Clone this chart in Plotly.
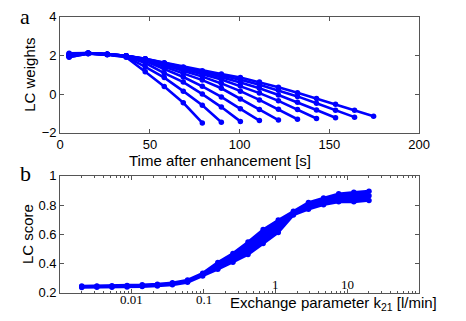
import plotly.graph_objects as go
import math

# ---------------- Panel a data ----------------
t_sec = [5, 15.6, 26.2, 36.8, 47.4, 58, 68.6, 79.2, 89.8, 100.4, 111,
         121.6, 132.2, 142.8, 153.4, 164, 174.6]

w_line0 = [1.92, 2.08, 2.03, 1.90, 1.15, 0.39, -0.45, -1.49]
w_line1 = [1.95, 2.10, 2.04, 1.93, 1.40, 0.85, 0.15, -0.58, -1.45]
w_line2 = [2.05, 2.11, 2.05, 1.95, 1.60, 1.08, 0.62, 0.00, -0.67, -1.41]
w_line3 = [1.98, 2.09, 2.05, 1.96, 1.70, 1.30, 0.88, 0.40, -0.15, -0.76, -1.37]
w_line4 = [2.08, 2.12, 2.06, 1.97, 1.75, 1.42, 1.08, 0.72, 0.30, -0.26, -0.80, -1.34]
w_line5 = [1.90, 2.10, 2.05, 1.97, 1.78, 1.50, 1.20, 0.90, 0.55, 0.15, -0.30, -0.78, -1.30]
w_line6 = [2.02, 2.11, 2.06, 1.98, 1.80, 1.55, 1.28, 1.02, 0.75, 0.42, 0.05, -0.35, -0.80, -1.26]
w_line7 = [1.96, 2.09, 2.04, 1.98, 1.81, 1.58, 1.33, 1.10, 0.87, 0.60, 0.30, -0.05, -0.42, -0.82, -1.22]
w_line8 = [2.10, 2.12, 2.06, 1.98, 1.82, 1.60, 1.37, 1.15, 0.95, 0.74, 0.48, 0.20, -0.12, -0.47, -0.84, -1.19]
w_line9 = [2.00, 2.10, 2.05, 1.98, 1.82, 1.62, 1.40, 1.20, 1.03, 0.85, 0.62, 0.35, 0.07, -0.23, -0.53, -0.84, -1.15]

x_ticks_a = [0, 50, 100, 150, 200]
y_ticks_a = [-2, 0, 2, 4]

# ---------------- Panel b data ----------------
k21 = [0.002, 0.00325, 0.00527, 0.00856, 0.0139, 0.0226, 0.0366, 0.0595,
       0.0966, 0.157, 0.255, 0.413, 0.671, 1.09, 1.77, 2.87, 4.66, 7.57,
       12.3, 20.0]
score_low = [0.237, 0.238, 0.239, 0.241, 0.243, 0.248, 0.255, 0.272, 0.315,
             0.362, 0.410, 0.462, 0.537, 0.612, 0.732, 0.772, 0.802, 0.822,
             0.822, 0.832]
score_mid = [0.242, 0.243, 0.244, 0.246, 0.249, 0.254, 0.262, 0.280, 0.325,
             0.385, 0.440, 0.505, 0.585, 0.655, 0.745, 0.795, 0.825, 0.850,
             0.855, 0.863]
score_high = [0.247, 0.248, 0.249, 0.251, 0.255, 0.260, 0.269, 0.288, 0.335,
              0.408, 0.470, 0.548, 0.633, 0.698, 0.758, 0.818, 0.848, 0.878,
              0.888, 0.895]

x_major_b = [0.001, 0.01, 0.1, 1, 10, 100]
x_labels_b = [0.01, 0.1, 1, 10]
x_labeltext_b = ["0.01", "0.1", "1", "10"]
x_label_below_b = [True, True, False, False]   # first two sit under the axis
x_minor_b = [0.002, 0.003, 0.004, 0.005, 0.006, 0.007, 0.008, 0.009,
             0.02, 0.03, 0.04, 0.05, 0.06, 0.07, 0.08, 0.09,
             0.2, 0.3, 0.4, 0.5, 0.6, 0.7, 0.8, 0.9,
             2, 3, 4, 5, 6, 7, 8, 9,
             20, 30, 40, 50, 60, 70, 80, 90]
y_ticks_b = [0.2, 0.4, 0.6, 0.8, 1.0]
y_ticktext_b = ["0.2", "0.4", "0.6", "0.8", "1"]

BLUE = "#0000FF"
AXC = "#555555"
SANS = "Liberation Sans, Arial, sans-serif"
SERIF = "Liberation Serif, Times New Roman, serif"

fig = go.Figure()

for w in [w_line0, w_line1, w_line2, w_line3, w_line4,
          w_line5, w_line6, w_line7, w_line8, w_line9]:
    fig.add_trace(go.Scatter(
        x=t_sec[:len(w)], y=w, mode="lines+markers",
        line=dict(color=BLUE, width=2.6),
        marker=dict(color=BLUE, size=5.5),
        xaxis="x", yaxis="y", showlegend=False, hoverinfo="skip"))

fig.add_trace(go.Scatter(
    x=k21, y=score_low, mode="lines+markers",
    line=dict(color=BLUE, width=2.6), marker=dict(color=BLUE, size=5.5),
    xaxis="x2", yaxis="y2", showlegend=False, hoverinfo="skip"))
fig.add_trace(go.Scatter(
    x=k21, y=score_high, mode="lines+markers", fill="tonexty",
    fillcolor=BLUE,
    line=dict(color=BLUE, width=2.6), marker=dict(color=BLUE, size=5.5),
    xaxis="x2", yaxis="y2", showlegend=False, hoverinfo="skip"))
fig.add_trace(go.Scatter(
    x=k21, y=score_mid, mode="lines+markers",
    line=dict(color=BLUE, width=2.6), marker=dict(color=BLUE, size=5.5),
    xaxis="x2", yaxis="y2", showlegend=False, hoverinfo="skip"))

W, H = 466, 321
xd = [58 / W, 429 / W]
ya_dom = [1 - 132 / H, 1 - 10 / H]
yb_dom = [1 - 300 / H, 1 - 177 / H]

common = dict(showgrid=False, zeroline=False, showline=True, linecolor=AXC,
              linewidth=1, mirror="ticks", ticks="inside", ticklen=4,
              tickcolor=AXC, tickwidth=1)

fig.update_layout(
    width=W, height=H,
    margin=dict(l=0, r=0, t=0, b=0),
    paper_bgcolor="white", plot_bgcolor="white",
    hovermode=False,
    xaxis=dict(domain=xd, anchor="y", range=[0, 200], tickvals=x_ticks_a,
               tickfont=dict(family=SANS, size=13, color="black"), **common),
    yaxis=dict(domain=ya_dom, anchor="x", range=[-2, 4], tickvals=y_ticks_a,
               tickfont=dict(family=SANS, size=13, color="black"), **common),
    xaxis2=dict(domain=xd, anchor="y2", type="log", range=[-3, 2],
                tickvals=x_major_b, showticklabels=False,
                minor=dict(tickvals=x_minor_b, ticks="inside", ticklen=2,
                           tickcolor=AXC, showgrid=False),
                **common),
    yaxis2=dict(domain=yb_dom, anchor="x2", range=[0.1995, 1.0005],
                tickvals=y_ticks_b, ticktext=y_ticktext_b,
                tickfont=dict(family=SANS, size=13, color="black"), **common),
)

def px_ann(text, x, y, size, family=SANS, angle=0, xanchor="center"):
    fig.add_annotation(text=text, x=x / W, y=1 - y / H, xref="paper",
                       yref="paper", showarrow=False, textangle=angle,
                       xanchor=xanchor, yanchor="middle",
                       font=dict(family=family, size=size, color="black"))

# log-axis tick labels, placed as in the reference
for v, txt, below in zip(x_labels_b, x_labeltext_b, x_label_below_b):
    ypx = 307 if below else 291
    fig.add_annotation(text=txt, x=math.log10(v), y=1 - ypx / H,
                       xref="x2", yref="paper", showarrow=False,
                       xanchor="center", yanchor="middle",
                       font=dict(family=SERIF, size=13, color="black"))

px_ann("a", 22, 9.5, 22, SERIF)
px_ann("b", 22, 175, 22, SERIF)
px_ann("Time after enhancement [s]", 223, 161, 15)
px_ann("LC weights", 27, 71, 15, angle=-90)
px_ann("LC score", 25, 238, 15, angle=-90)
px_ann("Exchange parameter k<sub>21</sub> [l/min]", 449, 311, 15,
       xanchor="right")

fig.write_html("out.html",
               config={"displayModeBar": False, "staticPlot": True},
               post_script="document.body.style.margin='0';"
                           "document.body.style.overflow='hidden';")
